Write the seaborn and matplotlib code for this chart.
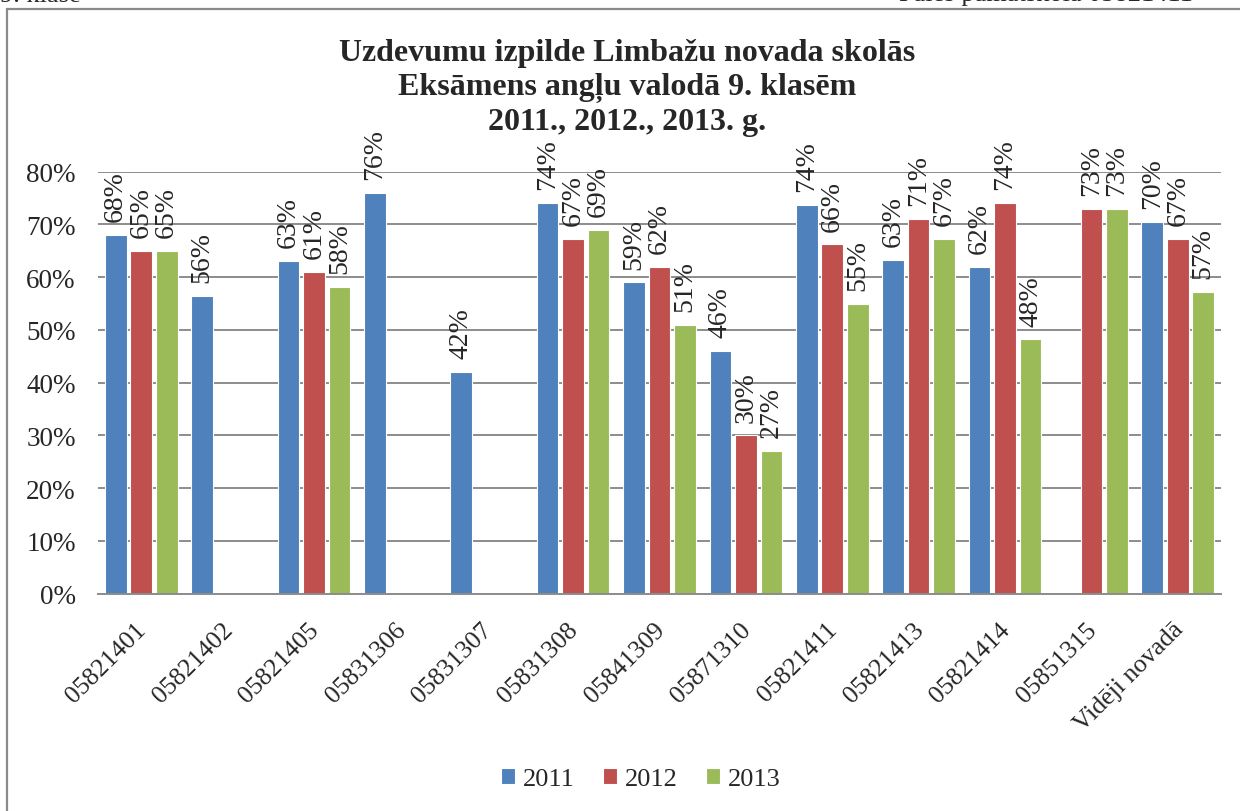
import numpy as np
import pandas as pd
import matplotlib
matplotlib.use("Agg")
import matplotlib.pyplot as plt
import matplotlib.transforms as mtransforms
import seaborn as sns
from matplotlib.patches import Rectangle

# data (share of tasks done)
schools = ["05821401", "05821402", "05821405", "05831306", "05831307", "05831308",
           "05841309", "05871310", "05821411", "05821413", "05821414", "05851315",
           "Vidēji novadā"]
years = ["2011", "2012", "2013"]
v2011 = [0.68, 0.564, 0.63, 0.76, 0.42, 0.74, 0.59, 0.46, 0.737, 0.632, 0.62, np.nan, 0.704]
v2012 = [0.65, np.nan, 0.61, np.nan, np.nan, 0.672, 0.62, 0.30, 0.662, 0.71, 0.74, 0.73, 0.672]
v2013 = [0.65, np.nan, 0.582, np.nan, np.nan, 0.69, 0.51, 0.27, 0.55, 0.672, 0.482, 0.73, 0.572]
colors = ["#4F81BD", "#C0504D", "#9BBB59"]
title = "Uzdevumu izpilde Limbažu novada skolās\nEksāmens angļu valodā 9. klasēm\n2011., 2012., 2013. g."

df = pd.DataFrame({
    "skola": schools * 3,
    "gads": [y for y in years for _ in schools],
    "vertiba": v2011 + v2012 + v2013,
}).dropna()

sns.set_style("white")
plt.rcParams["font.family"] = ["Liberation Serif", "DejaVu Serif"]

W, H = 1240, 812
fig = plt.figure(figsize=(W / 100, H / 100), dpi=100)
ax = fig.add_axes([98 / W, 1 - 594.7 / H, (1221 - 98) / W, (594.7 - 172.7) / H])

sns.barplot(data=df, x="skola", y="vertiba", hue="gads", order=schools,
            hue_order=years, palette=colors, width=0.885, gap=0.15,
            edgecolor="white", linewidth=0.8, saturation=1, ax=ax,
            legend=True)

for cont in ax.containers:
    ax.bar_label(cont, fmt=lambda v: f"{v * 100:.0f}%", rotation=90,
                 padding=10, fontsize=20)

ax.set_ylim(0, 0.8)
ax.set_xlim(-0.5, len(schools) - 0.5)
ax.set_yticks(np.arange(0, 0.81, 0.1))
ax.set_yticklabels([f"{int(round(t * 100))}%" for t in np.arange(0, 0.81, 0.1)])
ax.yaxis.grid(True, color="#8c8c8c", linewidth=1.4)
ax.set_axisbelow(True)
for s in ["top", "right", "left"]:
    ax.spines[s].set_visible(False)
ax.spines["bottom"].set_color("#8c8c8c")
ax.spines["bottom"].set_linewidth(1.4)
ax.tick_params(axis="y", length=0, pad=16, labelsize=19.5)
ax.tick_params(axis="x", length=0, pad=17.5, labelsize=18.5)
shift = mtransforms.ScaledTranslation(-6 / 100, 0, fig.dpi_scale_trans)
for lab in ax.get_xticklabels():
    lab.set_rotation(45)
    lab.set_ha("right")
    lab.set_va("top")
    lab.set_rotation_mode("anchor")
    lab.set_transform(lab.get_transform() + shift)
ax.set_xlabel("")
ax.set_ylabel("")

# legend at the bottom
handles, labels = ax.get_legend_handles_labels()
ax.legend_.remove()
fig.legend(handles, labels, loc="center", bbox_to_anchor=(641 / W, 1 - 780 / H),
           ncol=3, frameon=False, fontsize=19, handlelength=0.55,
           handleheight=0.55, handletextpad=0.3, columnspacing=1.05,
           borderpad=0)

fig.text(627 / W, 1 - 88 / H, title, ha="center", va="center",
         fontsize=23, fontweight="bold", linespacing=1.22)

# chart frame and the cut page header
fig.patches.append(Rectangle((7, -20), W + 20, 802 + 20, transform=None,
                             fill=False, edgecolor="#8a8a8a", linewidth=1.6))
fig.text(0 / W, 1 - 1.5 / H, "9. klase", ha="left", va="baseline", fontsize=19)
fig.text(1193 / W, 1 - 1.5 / H, "Pāles pamatskola 05821411", ha="right",
         va="baseline", fontsize=19)

fig.savefig("out.png", dpi=100)
